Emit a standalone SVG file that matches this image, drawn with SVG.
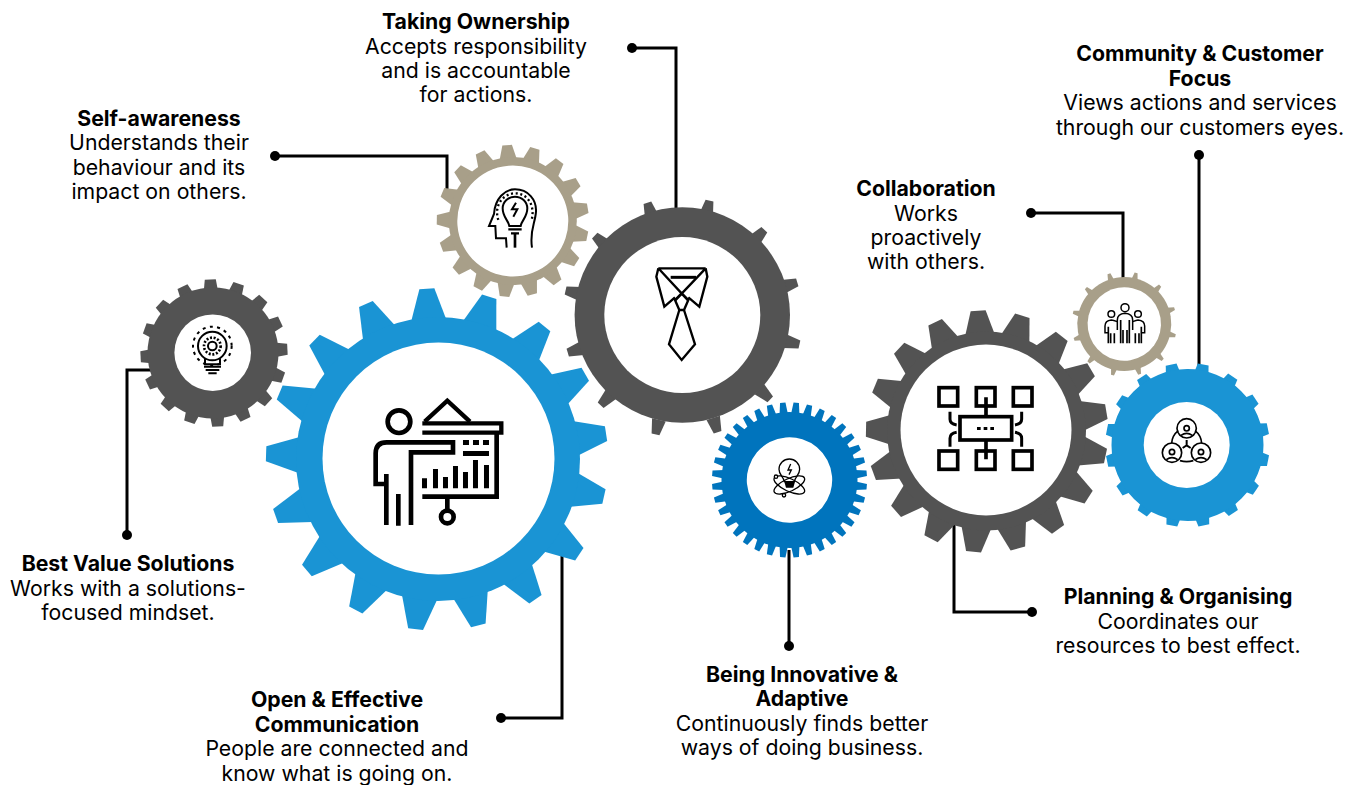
<svg xmlns="http://www.w3.org/2000/svg" width="1356" height="785" viewBox="0 0 1356 785">
<style>
text{font-family:Inter,"Liberation Sans",sans-serif;font-size:21.25px;fill:#000;text-anchor:middle}
.h{font-weight:700}
.conn{fill:none;stroke:#000;stroke-width:3}
.dot{fill:#000}
.hole{fill:#fff}
.blue{fill:#1a94d4}.dark{fill:#535353}.tan{fill:#a89f89}.deep{fill:#0074bd}
.i{fill:none;stroke:#000;stroke-linejoin:miter}
.f{fill:#000;stroke:none}
</style>
<defs>
<polygon id="tBig" points="-18,-138 -7.5,-171 7.5,-171 18,-138"/>
<polygon id="tTie" points="-7,-105 -4,-120 4,-120 7,-105"/>
<polygon id="tSelf" points="-8.5,-62 -4.8,-76 4.8,-76 8.5,-62"/>
<polygon id="tBest" points="-7,-63 -5.5,-73.5 5.5,-73.5 7,-63"/>
<polygon id="tInno" points="-4.2,-66 -2.7,-77.5 2.7,-77.5 4.2,-66"/>
<polygon id="tPlan" points="-15,-96 -7.5,-121 7.5,-121 15,-96"/>
<polygon id="tColl" points="-3.2,-45 -1.5,-52.5 1.5,-52.5 3.2,-45"/>
<polygon id="tComm" points="-7,-74 -5.5,-82 5.5,-82 7,-74"/>
</defs>

<g id="connectors">
<path class="conn" d="M275 156H447V192"/><circle class="dot" cx="275" cy="156" r="5"/>
<path class="conn" d="M632 48H676V212"/><circle class="dot" cx="632" cy="48" r="5"/>
<path class="conn" d="M127 535V370H154"/><circle class="dot" cx="127" cy="535" r="5"/>
<path class="conn" d="M501 718H562V555"/><circle class="dot" cx="501" cy="718" r="5"/>
<path class="conn" d="M789 646V550"/><circle class="dot" cx="789" cy="646" r="5"/>
<path class="conn" d="M1032 612H954V525"/><circle class="dot" cx="1032" cy="612" r="5"/>
<path class="conn" d="M1031 213H1123V282"/><circle class="dot" cx="1031" cy="213" r="5"/>
<path class="conn" d="M1199 155V372"/><circle class="dot" cx="1199" cy="155" r="5"/>
</g>

<g id="node-self-awareness">
<g class="tan" transform="translate(512.8 221) rotate(-4.3)">
<use href="#tSelf"/><use href="#tSelf" transform="rotate(21.18)"/><use href="#tSelf" transform="rotate(42.35)"/><use href="#tSelf" transform="rotate(63.53)"/><use href="#tSelf" transform="rotate(84.71)"/><use href="#tSelf" transform="rotate(105.88)"/><use href="#tSelf" transform="rotate(127.06)"/><use href="#tSelf" transform="rotate(148.24)"/><use href="#tSelf" transform="rotate(169.41)"/><use href="#tSelf" transform="rotate(190.59)"/><use href="#tSelf" transform="rotate(211.76)"/><use href="#tSelf" transform="rotate(232.94)"/><use href="#tSelf" transform="rotate(254.12)"/><use href="#tSelf" transform="rotate(275.29)"/><use href="#tSelf" transform="rotate(296.47)"/><use href="#tSelf" transform="rotate(317.65)"/><use href="#tSelf" transform="rotate(338.82)"/>
<circle r="64"/><circle class="hole" r="55.5"/>
</g>
<g class="i" transform="translate(430 140) scale(.3333)" stroke-width="6">
<path d="M230 323L228 295H198L196 258H177L192 222C195 175 225 148 255 148C295 148 320 180 318 215C316 250 298 270 306 323"/>
<path d="M205 240C190 195 222 160 255 160C292 160 316 195 305 240" stroke-width="7" stroke-dasharray="6 8"/>
<path d="M238 258C235 240 218 232 218 205C218 185 235 170 255 170C275 170 292 185 292 205C292 232 275 240 272 258Z"/>
<path d="M235 268H275M243 280H267" stroke-width="7"/>
<path d="M255 282V323" stroke-width="8"/>
<path d="M258 188L246 208H262L250 230"/>
</g>
<text x="159" y="125.500" class="h">Self-awareness</text>
<text x="159" y="150">Understands their</text>
<text x="159" y="174.500">behaviour and its</text>
<text x="159" y="199">impact on others.</text>
</g>

<g id="node-ownership">
<g class="dark" transform="translate(682.5 317.500) rotate(13)">
<use href="#tTie"/><use href="#tTie" transform="rotate(30)"/><use href="#tTie" transform="rotate(60)"/><use href="#tTie" transform="rotate(90)"/><use href="#tTie" transform="rotate(120)"/><use href="#tTie" transform="rotate(150)"/><use href="#tTie" transform="rotate(180)"/><use href="#tTie" transform="rotate(210)"/><use href="#tTie" transform="rotate(240)"/><use href="#tTie" transform="rotate(270)"/><use href="#tTie" transform="rotate(300)"/><use href="#tTie" transform="rotate(330)"/>
</g>
<circle class="dark" cx="682.3" cy="315" r="107.7"/><circle class="hole" cx="682.3" cy="315" r="78"/>
<g class="i" transform="translate(620 250) scale(.3333)" stroke-width="7">
<path d="M115 55H257M115 55L109 80L133 170L165 142M257 55L262 80L238 170L205 142M115 55L205 152M257 55L165 152"/>
<path d="M152 82H228" stroke-width="9"/>
<path d="M165 150L178 180H192L205 150L185 130Z"/>
<path d="M178 180L147 283L185 330L225 283L192 180"/>
</g>
<text x="476" y="28.500" class="h">Taking Ownership</text>
<text x="476" y="53.500">Accepts responsibility</text>
<text x="476" y="78">and is accountable</text>
<text x="476" y="102">for actions.</text>
</g>

<g id="node-best-value">
<g class="dark" transform="translate(214 353) rotate(-2.9)">
<use href="#tBest"/><use href="#tBest" transform="rotate(22.5)"/><use href="#tBest" transform="rotate(45)"/><use href="#tBest" transform="rotate(67.5)"/><use href="#tBest" transform="rotate(90)"/><use href="#tBest" transform="rotate(112.5)"/><use href="#tBest" transform="rotate(135)"/><use href="#tBest" transform="rotate(157.5)"/><use href="#tBest" transform="rotate(180)"/><use href="#tBest" transform="rotate(202.5)"/><use href="#tBest" transform="rotate(225)"/><use href="#tBest" transform="rotate(247.5)"/><use href="#tBest" transform="rotate(270)"/><use href="#tBest" transform="rotate(292.5)"/><use href="#tBest" transform="rotate(315)"/><use href="#tBest" transform="rotate(337.5)"/>
</g>
<circle class="dark" cx="213" cy="353" r="65.5"/><circle class="hole" cx="212.700" cy="352.700" r="38.3"/>
<g class="i" transform="translate(140 275) scale(.3333)" stroke-width="6">
<circle cx="217" cy="213" r="43"/>
<path d="M195 250V268H240V250"/>
<path d="M192 275H243M197 285H238M205 295H230"/>
<circle cx="217" cy="213" r="25" stroke-width="8" stroke-dasharray="6 5"/>
<circle cx="217" cy="213" r="13"/>
<circle cx="217" cy="213" r="58" stroke-width="6" stroke-dasharray="9 13"/>
</g>
<text x="128" y="570.500" class="h">Best Value Solutions</text>
<text x="128" y="595.500">Works with a solutions-</text>
<text x="128" y="620">focused mindset.</text>
</g>

<g id="node-communication">
<g class="blue" transform="translate(437 459.500) rotate(-3.4)">
<use href="#tBig"/><use href="#tBig" transform="rotate(21.18)"/><use href="#tBig" transform="rotate(42.35)"/><use href="#tBig" transform="rotate(63.53)"/><use href="#tBig" transform="rotate(84.71)"/><use href="#tBig" transform="rotate(105.88)"/><use href="#tBig" transform="rotate(127.06)"/><use href="#tBig" transform="rotate(148.24)"/><use href="#tBig" transform="rotate(169.41)"/><use href="#tBig" transform="rotate(190.59)"/><use href="#tBig" transform="rotate(211.76)"/><use href="#tBig" transform="rotate(232.94)"/><use href="#tBig" transform="rotate(254.12)"/><use href="#tBig" transform="rotate(275.29)"/><use href="#tBig" transform="rotate(296.47)"/><use href="#tBig" transform="rotate(317.65)"/><use href="#tBig" transform="rotate(338.82)"/>
</g>
<circle class="blue" cx="438" cy="459" r="142"/><circle class="hole" cx="438.500" cy="458.500" r="116"/>
<g class="i" transform="translate(340 370) scale(.3333)" stroke-width="14">
<circle cx="177" cy="155" r="34"/>
<path d="M139 342H107V250Q107 217 140 217H339V247H213V465"/>
<path d="M139 312V465M175 372V467"/>
<path d="M247 160H484V188H247" stroke-width="13"/>
<path d="M254 155L322 92L390 155" stroke-width="13"/>
<path d="M470 190V380H247"/>
<path d="M322 380V420"/>
<circle cx="322" cy="441" r="19"/>
<path class="f" d="M246 325h15v30h-15zM279 297h15v58h-15zM309 321h15v34h-15zM339 288h15v67h-15zM369 306h15v49h-15zM399 270h15v85h-15zM432 285h15v70h-15zM369 210h18v15h-18zM399 210h18v15h-18zM429 210h18v15h-18zM369 243h78v15h-78z"/>
</g>
<text x="337" y="706.500" class="h">Open &amp; Effective</text>
<text x="337" y="731.500" class="h">Communication</text>
<text x="337" y="756">People are connected and</text>
<text x="337" y="780.500">know what is going on.</text>
</g>

<g id="node-innovative">
<g class="deep" transform="translate(789.500 480) rotate(-5)">
<use href="#tInno"/><use href="#tInno" transform="rotate(10)"/><use href="#tInno" transform="rotate(20)"/><use href="#tInno" transform="rotate(30)"/><use href="#tInno" transform="rotate(40)"/><use href="#tInno" transform="rotate(50)"/><use href="#tInno" transform="rotate(60)"/><use href="#tInno" transform="rotate(70)"/><use href="#tInno" transform="rotate(80)"/><use href="#tInno" transform="rotate(90)"/><use href="#tInno" transform="rotate(100)"/><use href="#tInno" transform="rotate(110)"/><use href="#tInno" transform="rotate(120)"/><use href="#tInno" transform="rotate(130)"/><use href="#tInno" transform="rotate(140)"/><use href="#tInno" transform="rotate(150)"/><use href="#tInno" transform="rotate(160)"/><use href="#tInno" transform="rotate(170)"/><use href="#tInno" transform="rotate(180)"/><use href="#tInno" transform="rotate(190)"/><use href="#tInno" transform="rotate(200)"/><use href="#tInno" transform="rotate(210)"/><use href="#tInno" transform="rotate(220)"/><use href="#tInno" transform="rotate(230)"/><use href="#tInno" transform="rotate(240)"/><use href="#tInno" transform="rotate(250)"/><use href="#tInno" transform="rotate(260)"/><use href="#tInno" transform="rotate(270)"/><use href="#tInno" transform="rotate(280)"/><use href="#tInno" transform="rotate(290)"/><use href="#tInno" transform="rotate(300)"/><use href="#tInno" transform="rotate(310)"/><use href="#tInno" transform="rotate(320)"/><use href="#tInno" transform="rotate(330)"/><use href="#tInno" transform="rotate(340)"/><use href="#tInno" transform="rotate(350)"/>
<circle r="68"/><circle class="hole" r="42.7"/>
</g>
<g class="i" transform="translate(740 440) scale(.3333)" stroke-width="4">
<path d="M133 125C130 108 117 105 117 88C117 70 131 57 148 57C165 57 179 70 179 88C179 105 166 108 163 125Z"/>
<path class="f" d="M133 125H165L160 143H138Z"/>
<path d="M152 72L144 90H154L147 104"/>
<ellipse cx="148" cy="135" rx="50" ry="19" transform="rotate(25 148 135)"/>
<ellipse cx="148" cy="135" rx="50" ry="19" transform="rotate(-25 148 135)"/>
<circle cx="108" cy="110" r="5" fill="#fff"/>
<circle cx="132" cy="166" r="5" fill="#fff"/>
</g>
<text x="802" y="681.500" class="h">Being Innovative &amp;</text>
<text x="802" y="705.500" class="h">Adaptive</text>
<text x="802" y="730.500">Continuously finds better</text>
<text x="802" y="755">ways of doing business.</text>
</g>

<g id="node-planning">
<g class="dark" transform="translate(987 431.500) rotate(-4.2)">
<use href="#tPlan"/><use href="#tPlan" transform="rotate(21.18)"/><use href="#tPlan" transform="rotate(42.35)"/><use href="#tPlan" transform="rotate(63.53)"/><use href="#tPlan" transform="rotate(84.71)"/><use href="#tPlan" transform="rotate(105.88)"/><use href="#tPlan" transform="rotate(127.06)"/><use href="#tPlan" transform="rotate(148.24)"/><use href="#tPlan" transform="rotate(169.41)"/><use href="#tPlan" transform="rotate(190.59)"/><use href="#tPlan" transform="rotate(211.76)"/><use href="#tPlan" transform="rotate(232.94)"/><use href="#tPlan" transform="rotate(254.12)"/><use href="#tPlan" transform="rotate(275.29)"/><use href="#tPlan" transform="rotate(296.47)"/><use href="#tPlan" transform="rotate(317.65)"/><use href="#tPlan" transform="rotate(338.82)"/>
</g>
<circle class="dark" cx="986.500" cy="431" r="99.500"/><circle class="hole" cx="986" cy="430" r="85.5"/>
<g class="i" transform="translate(920 370) scale(.3333)" stroke-width="11">
<rect x="57" y="53" width="56" height="55"/><rect x="169" y="53" width="56" height="55"/><rect x="280" y="53" width="56" height="55"/>
<rect x="57" y="243" width="56" height="55"/><rect x="169" y="243" width="56" height="55"/><rect x="280" y="243" width="56" height="55"/>
<rect x="120" y="140" width="155" height="70"/>
<path d="M198 82V140M198 210V268"/>
<path d="M90 125V148Q90 162 110 165M110 187Q90 190 90 205V230M305 125V148Q305 162 285 165M285 187Q305 190 305 205V230" stroke-width="9"/>
<path class="f" d="M171 171h11v9h-11zM191 171h11v9h-11zM211 171h11v9h-11z"/>
</g>
<text x="1178" y="603.500" class="h">Planning &amp; Organising</text>
<text x="1178" y="628.500">Coordinates our</text>
<text x="1178" y="653">resources to best effect.</text>
</g>

<g id="node-collaboration">
<g class="tan" transform="translate(1124.3 324) rotate(13)">
<use href="#tColl"/><use href="#tColl" transform="rotate(30)"/><use href="#tColl" transform="rotate(60)"/><use href="#tColl" transform="rotate(90)"/><use href="#tColl" transform="rotate(120)"/><use href="#tColl" transform="rotate(150)"/><use href="#tColl" transform="rotate(180)"/><use href="#tColl" transform="rotate(210)"/><use href="#tColl" transform="rotate(240)"/><use href="#tColl" transform="rotate(270)"/><use href="#tColl" transform="rotate(300)"/><use href="#tColl" transform="rotate(330)"/>
<circle r="47"/><circle class="hole" r="36.7"/>
</g>
<g class="i" transform="translate(1070 270) scale(.3333)" stroke-width="4.5">
<circle cx="165" cy="113" r="12"/><circle cx="124" cy="132" r="10"/><circle cx="204" cy="132" r="10"/>
<path d="M142 180V150Q142 132 165 130Q188 132 188 150V180"/>
<path d="M152 150V220M159 180V220M171 180V220M178 150V220" stroke-width="5"/>
<path d="M142 155Q130 150 124 150Q105 152 105 168V188H114M188 155Q200 150 204 150Q224 152 224 168V188H215"/>
<path d="M115 170V220M122 190V220M133 190V220M214 170V220M207 190V220M196 190V220" stroke-width="5"/>
</g>
<text x="926" y="195.500" class="h">Collaboration</text>
<text x="926" y="220.500">Works</text>
<text x="926" y="244.500">proactively</text>
<text x="926" y="269">with others.</text>
</g>

<g id="node-community">
<g class="blue" transform="translate(1187.500 445) rotate(11)">
<use href="#tComm"/><use href="#tComm" transform="rotate(22.5)"/><use href="#tComm" transform="rotate(45)"/><use href="#tComm" transform="rotate(67.5)"/><use href="#tComm" transform="rotate(90)"/><use href="#tComm" transform="rotate(112.5)"/><use href="#tComm" transform="rotate(135)"/><use href="#tComm" transform="rotate(157.5)"/><use href="#tComm" transform="rotate(180)"/><use href="#tComm" transform="rotate(202.5)"/><use href="#tComm" transform="rotate(225)"/><use href="#tComm" transform="rotate(247.5)"/><use href="#tComm" transform="rotate(270)"/><use href="#tComm" transform="rotate(292.5)"/><use href="#tComm" transform="rotate(315)"/><use href="#tComm" transform="rotate(337.5)"/>
<circle r="76"/>
</g>
<circle class="hole" cx="1186.700" cy="445" r="43"/>
<g class="i" transform="translate(1100 360) scale(.3333)" stroke-width="5">
<path d="M215 250A52 52 0 0 1 235 212M285 212A52 52 0 0 1 305 250M240 302Q260 308 280 302"/>
<circle cx="260" cy="205" r="29"/><circle cx="216" cy="278" r="29"/><circle cx="303" cy="278" r="29"/>
<circle cx="260" cy="205" r="8"/><circle cx="216" cy="276" r="8"/><circle cx="303" cy="276" r="8"/>
<path d="M243 226Q260 214 277 226M199 299Q216 287 233 299M286 299Q303 287 320 299"/>
<path d="M260 240V256L248 264M260 256L272 264" stroke-width="6"/>
</g>
<text x="1200" y="60.500" class="h">Community &amp; Customer</text>
<text x="1200" y="85.500" class="h">Focus</text>
<text x="1200" y="109.500">Views actions and services</text>
<text x="1200" y="134.500">through our customers eyes.</text>
</g>
</svg>
